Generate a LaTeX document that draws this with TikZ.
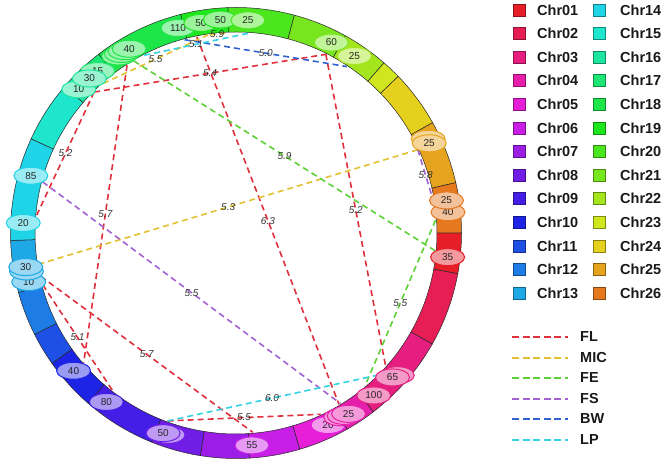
\documentclass[tikz,border=0pt]{standalone}
\usepackage{fontspec}
\setmainfont{Liberation Sans}
\setsansfont{Liberation Sans}
\usetikzlibrary{shapes.geometric}
\definecolor{chr01}{HTML}{E61E28}
\definecolor{chr02}{HTML}{E61E54}
\definecolor{chr03}{HTML}{E61E80}
\definecolor{chr04}{HTML}{E61EAC}
\definecolor{chr05}{HTML}{E61ED8}
\definecolor{chr06}{HTML}{C81EE6}
\definecolor{chr07}{HTML}{9C1EE6}
\definecolor{chr08}{HTML}{701EE6}
\definecolor{chr09}{HTML}{441EE6}
\definecolor{chr10}{HTML}{1E24E6}
\definecolor{chr11}{HTML}{1E50E6}
\definecolor{chr12}{HTML}{1E7CE6}
\definecolor{chr13}{HTML}{1EA8E6}
\definecolor{chr14}{HTML}{1ED4E6}
\definecolor{chr15}{HTML}{1EE6CC}
\definecolor{chr16}{HTML}{1EE6A0}
\definecolor{chr17}{HTML}{1EE674}
\definecolor{chr18}{HTML}{1EE648}
\definecolor{chr19}{HTML}{20E61E}
\definecolor{chr20}{HTML}{4CE61E}
\definecolor{chr21}{HTML}{78E61E}
\definecolor{chr22}{HTML}{A4E61E}
\definecolor{chr23}{HTML}{D0E61E}
\definecolor{chr24}{HTML}{E6D01E}
\definecolor{chr25}{HTML}{E6A41E}
\definecolor{chr26}{HTML}{E6781E}
\definecolor{cFL}{HTML}{E0303C}
\definecolor{cMIC}{HTML}{E2C032}
\definecolor{cFE}{HTML}{5CD035}
\definecolor{cFS}{HTML}{A262D2}
\definecolor{cBW}{HTML}{3262D2}
\definecolor{cLP}{HTML}{32D2E2}
\tikzset{
  every picture/.style={font=\sffamily},
  seg/.style={fill=#1, draw=black!85, line width=0.5pt},
  tag/.style={ellipse, draw=#1, fill=#1!45!white, line width=1pt, minimum width=34pt, minimum height=17pt, inner sep=0pt, font=\fontsize{10}{10}\selectfont, text=black!85},
  link/.style={draw=#1, dash pattern=on 6pt off 4pt, line width=1.6pt},
  lod/.style={font=\fontsize{10}{10}\selectfont\itshape, text=black!80, inner sep=1pt},
  legbox/.style={draw=#1!60!black, fill=#1, minimum size=12pt, inner sep=0pt, line width=0.6pt},
  legtext/.style={font=\fontsize{14.5}{14.5}\selectfont\bfseries, text=black!90, anchor=west, inner sep=0pt},
  legline/.style={draw=#1, dash pattern=on 7pt off 3.5pt, line width=2pt},
}

\begin{document}
\begin{tikzpicture}[x=1pt, y=1pt]
  \useasboundingbox (-236,-229) rectangle (430,233);
  % ---- chromosome ring, clockwise from 3 o'clock ----
  \foreach \c/\a/\b in {01/0/-10.4, 02/-10.4/-29.5, 03/-29.5/-52.5, 04/-52.5/-60.5,
      05/-60.5/-73.6, 06/-73.6/-86.5, 07/-86.5/-99.1, 08/-99.1/-112, 09/-112/-131,
      10/-131/-144.7, 11/-144.7/-153.3, 12/-153.3/-164.7, 13/-164.7/-178.1,
      14/181.9/155.3, 15/155.3/139.5, 16/139.5/133.3, 17/133.3/127.5, 18/127.5/104.2,
      19/104.2/92, 20/92/75, 21/75/61, 22/61/49, 23/49/44, 24/44/29.3,
      25/29.3/12.9, 26/12.9/0} {
    \draw[seg=chr\c] (\a:201) arc[start angle=\a, end angle=\b, radius=201]
      -- (\b:225.5) arc[start angle=\b, end angle=\a, radius=225.5] -- cycle;
  }
  % ---- link ends on the inner edge ----
  \coordinate (e135) at (135.2:200);
  \coordinate (e132) at (131.6:200);
  \coordinate (e123) at (123:200);
  \coordinate (e121) at (120.7:200);
  \coordinate (e117) at (117.3:200);
  \coordinate (e105) at (104.9:200);
  \coordinate (e101) at (101.3:200);
  \coordinate (e98) at (98.1:200);
  \coordinate (e97) at (97.6:200);
  \coordinate (e93) at (93.2:200);
  \coordinate (e87) at (86.6:200);
  \coordinate (e63) at (63.3:200);
  \coordinate (e56) at (56.3:200);
  \coordinate (e25) at (24.6:200);
  \coordinate (e9) at (9.2:200);
  \coordinate (e4) at (3.7:200);
  \coordinate (em5) at (-5.1:200);
  \coordinate (em42) at (-41.6:200);
  \coordinate (em45) at (-45.4:200);
  \coordinate (em50) at (-49.8:200);
  \coordinate (em58) at (-58.5:200);
  \coordinate (em59) at (-59:200);
  \coordinate (em65) at (-65:200);
  \coordinate (em85) at (-85.2:200);
  \coordinate (em110) at (-110:200);
  \coordinate (em128) at (-128.2:200);
  \coordinate (em140) at (-139.6:200);
  \coordinate (em165) at (-165:200);
  \coordinate (em167) at (-167.5:200);
  \coordinate (em171) at (-171:200);
  \coordinate (e175) at (174.8:200);
  \coordinate (e165) at (165.2:200);
  % ---- links ----
  \draw[link=cFL] (e135) -- (e63) node[midway, lod] (l1) {5.4};
  \draw[link=cFL] (e135) -- (e175) node[midway, lod] (l2) {5.2};
  \draw[link=cFL] (e123) -- (em140) node[midway, lod] (l3) {5.7};
  \draw[link=cFL] (e101) -- (em59) node[midway, lod] (l4) {6.3};
  \draw[link=cFL] (e63) -- (em42) node[midway, lod] (l5) {5.2};
  \draw[link=cFL] (em165) -- (em128) node[midway, lod] (l6) {5.1};
  \draw[link=cFL] (em167) -- (em85) node[midway, lod] (l7) {5.7};
  \draw[link=cFL] (em110) -- (em65) node[midway, lod] (l8) {5.5};
  \draw[link=cMIC] (e132) -- (e98) node[midway, lod] (l9) {5.5};
  \draw[link=cMIC] (em171) -- (e25) node[midway, lod] (l10) {5.3};
  \draw[link=cMIC] (e97) -- (e93) node[midway, lod] (l18) {5.9};
  \draw[link=cFE] (e121) -- (em5) node[midway, lod] (l11) {5.9};
  \draw[link=cFE] (e4) -- (em50) node[midway, lod] (l12) {5.5};
  \draw[link=cFS] (e165) -- (em58) node[midway, lod] (l13) {5.5};
  \draw[link=cFS] (e25) -- (e9) node[midway, lod] (l14) {5.8};
  \draw[link=cBW] (e105) -- (e56) node[midway, lod] (l15) {5.0};
  \draw[link=cLP] (e117) -- (e87) node[midway, lod] (l16) {5.1};
  \draw[link=cLP] (em110) -- (em45) node[midway, lod] (l17) {6.0};
  % ---- QTL tags on the ring ----
  \node[tag=chr26] (t26a) at (5.6:213) {40};
  \node[tag=chr26] (t26b) at (8.8:213) {25};
  \node[tag=chr01] (t01a) at (-6.5:213) {35};
  \node[tag=chr03] (t03a) at (-41.4:215) {};
  \node[tag=chr03] (t03b) at (-42.7:213) {65};
  \node[tag=chr03] (t03c) at (-49.7:213) {100};
  \node[tag=chr05] (t05a) at (-64.4:213) {20};
  \node[tag=chr04] (t04a) at (-60.4:212) {};
  \node[tag=chr04] (t04b) at (-59.4:212.5) {};
  \node[tag=chr04] (t04c) at (-58.1:213) {25};
  \node[tag=chr06] (t06a) at (-85.7:213) {55};
  \node[tag=chr08] (t08a) at (-108.6:213) {};
  \node[tag=chr08] (t08b) at (-110:213) {50};
  \node[tag=chr09] (t09a) at (-127.5:213) {80};
  \node[tag=chr10] (t10a) at (-139.7:213) {40};
  \node[tag=chr13] (t13a) at (-166.7:213) {10};
  \node[tag=chr13] (t13b) at (-169.6:213) {};
  \node[tag=chr13] (t13c) at (-170.8:213) {30};
  \node[tag=chr14] (t14a) at (177.3:213) {20};
  \node[tag=chr14] (t14b) at (164.4:213) {85};
  \node[tag=chr16] (t16a) at (137.6:213) {10};
  \node[tag=chr17] (t17a) at (130.5:213) {15};
  \node[tag=chr16] (t16b) at (133.5:213) {30};
  \node[tag=chr18] (t18a) at (123.6:212) {};
  \node[tag=chr18] (t18b) at (122.6:212.5) {};
  \node[tag=chr18] (t18c) at (121.4:213) {};
  \node[tag=chr18] (t18d) at (120.1:213) {40};
  \node[tag=chr18] (t18e) at (105.8:213) {110};
  \node[tag=chr19] (t19a) at (99.5:213) {50};
  \node[tag=chr19] (t19b) at (94.2:214) {50};
  \node[tag=chr20] (t20a) at (86.8:213) {25};
  \node[tag=chr21] (t21a) at (63.4:213) {60};
  \node[tag=chr22] (t22a) at (56.2:213) {25};
  \node[tag=chr25] (t25a) at (26.1:214) {};
  \node[tag=chr25] (t25b) at (24.9:213) {25};
  % ---- legend: chromosomes ----
  \foreach \i/\c/\d in {0/01/14, 1/02/15, 2/03/16, 3/04/17, 4/05/18, 5/06/19,
      6/07/20, 7/08/21, 8/09/22, 9/10/23, 10/11/24, 11/12/25, 12/13/26} {
    \node[legbox=chr\c] (b\c) at (283, {223-23.6*\i}) {};
    \node[legtext] (n\c) at (301, {223-23.6*\i}) {Chr\c};
    \node[legbox=chr\d] (b\d) at (363, {223-23.6*\i}) {};
    \node[legtext] (n\d) at (384, {223-23.6*\i}) {Chr\d};
  }
  % ---- legend: traits ----
  \foreach \i/\t/\y in {0/FL/-104, 1/MIC/-125, 2/FE/-145, 3/FS/-166, 4/BW/-186, 5/LP/-207} {
    \coordinate (s\t) at (276, \y);
    \coordinate (f\t) at (332, \y);
    \draw[legline=c\t] (s\t) -- (f\t);
    \node[legtext] (k\t) at (344, \y) {\t};
  }
\end{tikzpicture}
\end{document}
